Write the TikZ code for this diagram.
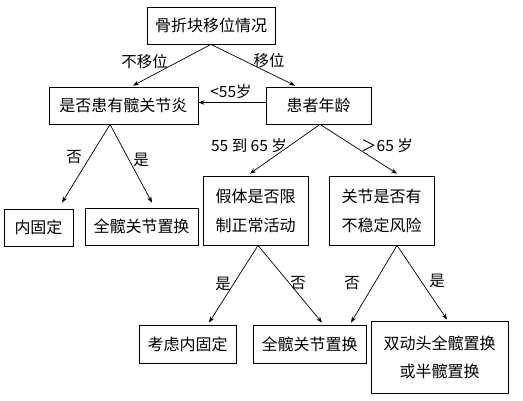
\documentclass[tikz,border=0pt]{standalone}
\usepackage{fontspec}
\setmainfont{Noto Sans CJK SC}
\usetikzlibrary{arrows.meta}
\begin{document}
\begin{tikzpicture}[x=1pt,y=-1pt,
  box/.style={draw=black,line width=0.8pt,inner sep=0pt,align=center,font=\fontsize{16}{29}\selectfont},
  lbl/.style={inner sep=0pt,font=\fontsize{15.5}{18}\selectfont},
  arr/.style={draw=black,line width=0.7pt,-{Stealth[length=6pt,width=4.5pt]}}]
\useasboundingbox[fill=white] (0,0) rectangle (523,400);
\node[box,minimum width=128pt,minimum height=37pt] (b1) at (211,25.5) {骨折块移位情况};
\node[box,minimum width=149pt,minimum height=37pt] (b2) at (123.5,105.5) {是否患有髋关节炎};
\node[box,minimum width=105pt,minimum height=37pt] (b3) at (318.5,105.5) {患者年龄};
\node[box,minimum width=69pt,minimum height=37pt] (b4) at (38.5,227.5) {内固定};
\node[box,minimum width=113pt,minimum height=37pt] (b5) at (141.5,226.5) {全髋关节置换};
\node[box,minimum width=105pt,minimum height=69pt] (b6) at (255.5,210.5) {假体是否限\\制正常活动};
\node[box,minimum width=105pt,minimum height=69pt] (b7) at (381.5,210.5) {关节是否有\\不稳定风险};
\node[box,minimum width=97pt,minimum height=38pt] (b8) at (187.5,344) {考虑内固定};
\node[box,minimum width=113pt,minimum height=38pt] (b9) at (309.5,344) {全髋关节置换};
\node[box,minimum width=137pt,minimum height=72pt,font=\fontsize{16}{28}\selectfont] (b10) at (439.5,357) {双动头全髋置换\\或半髋置换};
% connectors
\draw[arr] (b1.south) -- ([xshift=9.5pt,yshift=1pt]b2.north);
\draw[arr] (b1.south) -- ([xshift=-23.5pt,yshift=1pt]b3.north);
\draw[arr] ([yshift=3pt]b3.west) -- ([yshift=3pt]b2.east);
\draw[arr] ([xshift=-13.5pt]b2.south) -- ([xshift=23.5pt,yshift=6pt]b4.north);
\draw[arr] ([xshift=-13.5pt]b2.south) -- ([xshift=10.5pt,yshift=5pt]b5.north);
\draw[arr] ([xshift=1.5pt]b3.south) -- ([xshift=-5.5pt,yshift=2pt]b6.north);
\draw[arr] ([xshift=1.5pt]b3.south) -- ([xshift=15.5pt,yshift=2pt]b7.north);
\draw[arr] ([xshift=2.5pt]b6.south) -- ([xshift=21.5pt,yshift=2pt]b8.north);
\draw[arr] ([xshift=2.5pt]b6.south) -- ([xshift=12.5pt,yshift=2pt]b9.north);
\draw[arr] ([xshift=15.5pt]b7.south) -- ([xshift=41.5pt,yshift=2pt]b9.north);
\draw[arr] ([xshift=15.5pt]b7.south) -- ([xshift=7.5pt,yshift=1pt]b10.north);
% labels
\node[lbl] (l1) at (144.5,61.5) {不移位};
\node[lbl] (l2) at (269,61) {移位};
\node[lbl] (l3) at (231,92) {<55岁};
\node[lbl] (l4) at (74,157) {否};
\node[lbl] (l5) at (141,160) {是};
\node[lbl] (l6) at (249,146) {55 到 65 岁};
\node[lbl] (l7) at (387,146) {＞65 岁};
\node[lbl] (l8) at (223,284) {是};
\node[lbl] (l9) at (298,283) {否};
\node[lbl] (l10) at (352,283) {否};
\node[lbl] (l11) at (437,281) {是};
\end{tikzpicture}
\end{document}
